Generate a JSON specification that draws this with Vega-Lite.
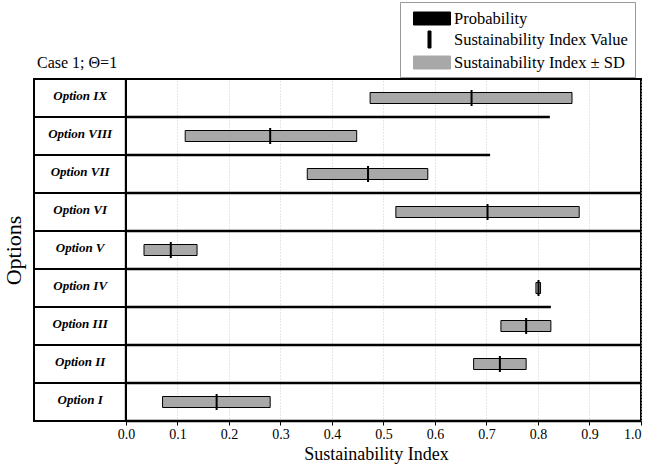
{
  "$schema": "https://vega.github.io/schema/vega-lite/v6.json",
  "width": 607,
  "height": 342,
  "autosize": {"type": "none"},
  "padding": {"left": 34, "top": 79, "right": 10, "bottom": 50},
  "background": "white",
  "title": {"text": "Case 1; Θ=1", "anchor": "start", "frame": "group", "font": "Liberation Serif", "fontSize": 16, "fontWeight": "normal", "color": "black", "offset": 8, "dy": 77, "dx": 3},
  "data": {"values": [
    {"option": "Option IX", "lo": 0.474, "si": 0.671, "hi": 0.866, "prob": 0.823},
    {"option": "Option VIII", "lo": 0.115, "si": 0.280, "hi": 0.448, "prob": 0.707},
    {"option": "Option VII", "lo": 0.352, "si": 0.470, "hi": 0.586, "prob": 1.0},
    {"option": "Option VI", "lo": 0.524, "si": 0.702, "hi": 0.880, "prob": 1.0},
    {"option": "Option V", "lo": 0.035, "si": 0.087, "hi": 0.138, "prob": 1.0},
    {"option": "Option IV", "lo": 0.796, "si": 0.801, "hi": 0.805, "prob": 0.825},
    {"option": "Option III", "lo": 0.728, "si": 0.777, "hi": 0.825, "prob": 1.0},
    {"option": "Option II", "lo": 0.675, "si": 0.726, "hi": 0.777, "prob": 1.0},
    {"option": "Option I", "lo": 0.071, "si": 0.176, "hi": 0.280, "prob": 1.0}
  ]},
  "config": {
    "view": {"stroke": "black", "strokeWidth": 2},
    "font": "Liberation Serif",
    "legend": {"labelFont": "Liberation Serif"}
  },
  "layer": [
    {
      "mark": {"type": "bar", "height": 11, "stroke": "black", "strokeWidth": 1},
      "encoding": {
        "x": {"field": "lo", "type": "quantitative", "title": "Sustainability Index",
          "scale": {"domain": [-0.1786, 1.0], "nice": false, "zero": false},
          "axis": {
            "values": [0, 0.1, 0.2, 0.3, 0.4, 0.5, 0.6, 0.7, 0.8, 0.9, 1.0],
            "format": ".1f",
            "labelFont": "Liberation Serif", "labelFontSize": 14, "labelColor": "black",
            "titleFont": "Liberation Serif", "titleFontSize": 18, "titleFontWeight": "normal", "titleColor": "black",
            "titleX": 342, "titleAlign": "center",
            "grid": true, "gridColor": "#cccccc", "gridDash": [1, 2], "gridWidth": 1,
            "domain": false, "ticks": true, "tickColor": "black", "tickSize": 4, "labelPadding": 2, "titlePadding": 4
          }
        },
        "x2": {"field": "hi"},
        "y": {"field": "option", "type": "nominal", "sort": null, "title": "Options",
          "scale": {"paddingInner": 0, "paddingOuter": 0},
          "axis": {
            "labels": false, "ticks": false, "domain": false, "grid": false,
            "titleFont": "Liberation Serif", "titleFontSize": 22, "titleFontWeight": "normal", "titleColor": "black", "titlePadding": 9
          }
        },
        "color": {"datum": "Sustainability Index ± SD", "type": "nominal",
          "scale": {"domain": ["Probability", "Sustainability Index Value", "Sustainability Index ± SD"], "range": ["black", "black", "#a8a8a8"]},
          "legend": {
            "orient": "none", "legendX": 366, "legendY": -77, "title": null,
            "fillColor": "white", "strokeColor": "#999999", "padding": 6,
            "labelFont": "Liberation Serif", "labelFontSize": 16.5, "labelColor": "black", "labelLimit": 300,
            "symbolSize": 400, "labelOffset": 27, "rowPadding": 2,
            "symbolStrokeColor": "black", "symbolStrokeWidth": 1, "symbolOpacity": 1,
            "encode": {
              "symbols": {"update": {
                "shape": {"signal": "datum.value === 'Sustainability Index Value' ? 'M1.15,-0.85H1.45V0.85H1.15Z' : 'M-0.3,-0.65H3.4V0.65H-0.3Z'"},
                "fill": {"signal": "datum.value === 'Sustainability Index ± SD' ? '#a8a8a8' : 'black'"},
                "stroke": {"value": "black"},
                "strokeWidth": {"value": 1},
                "opacity": {"value": 1}
              }},
              "labels": {"update": {"font": {"value": "Liberation Serif"}}}
            }
          }
        }
      }
    },
    {
      "mark": {"type": "rule", "strokeWidth": 2.5},
      "encoding": {
        "x": {"field": "prob", "type": "quantitative", "title": "Sustainability Index"},
        "x2": {"datum": 0},
        "y": {"field": "option", "type": "nominal", "sort": null, "bandPosition": 1, "title": "Options"},
        "color": {"datum": "Probability", "type": "nominal"}
      }
    },
    {
      "mark": {"type": "tick", "size": 16, "thickness": 2, "opacity": 1},
      "encoding": {
        "x": {"field": "si", "type": "quantitative", "title": "Sustainability Index"},
        "y": {"field": "option", "type": "nominal", "sort": null, "title": "Options"},
        "color": {"datum": "Sustainability Index Value", "type": "nominal"}
      }
    },
    {
      "mark": {"type": "rule", "color": "black", "strokeWidth": 2},
      "encoding": {
        "x": {"datum": -0.1786, "type": "quantitative"},
        "x2": {"datum": 0},
        "y": {"field": "option", "type": "nominal", "sort": null, "bandPosition": 1, "title": "Options"}
      }
    },
    {
      "mark": {"type": "rule", "color": "black", "strokeWidth": 2},
      "encoding": {
        "x": {"datum": 0, "type": "quantitative"}
      }
    },
    {
      "mark": {"type": "text", "font": "Liberation Serif", "fontSize": 13, "fontWeight": "bold", "fontStyle": "italic", "color": "black", "align": "center", "dy": -2},
      "encoding": {
        "x": {"datum": -0.089, "type": "quantitative"},
        "y": {"field": "option", "type": "nominal", "sort": null, "title": "Options"},
        "text": {"field": "option"}
      }
    }
  ]
}
